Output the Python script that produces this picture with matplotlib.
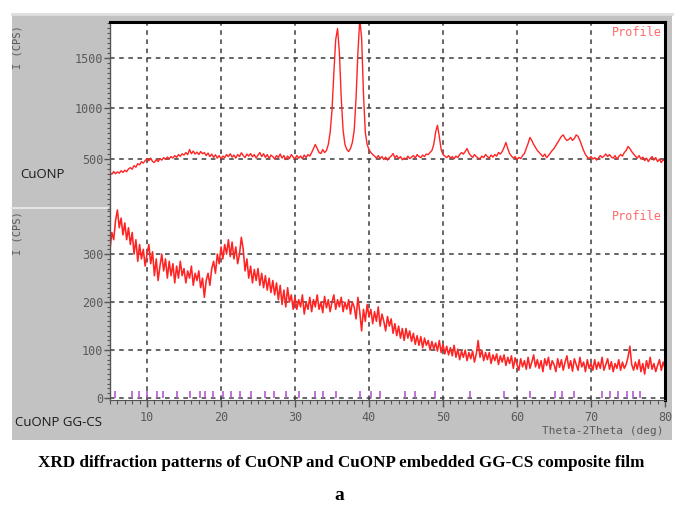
import matplotlib
matplotlib.use("Agg")
import matplotlib.pyplot as plt
import numpy as np
from matplotlib.lines import Line2D
from matplotlib.patches import Rectangle
from matplotlib.ticker import MultipleLocator

# 2-theta grid, 0.25 deg steps from 5 to 80
two_theta = np.arange(5.0, 80.001, 0.25)

# CuONP intensity (CPS)
cuonp = [
    360, 345, 372, 350, 368, 355, 380, 362, 385, 370, 398, 410,
    395, 430, 415, 450, 438, 470, 455, 480, 500, 478, 505, 470,
    462, 490, 470, 500, 485, 510, 492, 515, 498, 520, 505, 530,
    512, 540, 522, 548, 535, 560, 540, 590, 548, 575, 545, 565,
    540, 570, 548, 560, 530, 555, 520, 545, 512, 538, 505, 530,
    498, 525, 510, 540, 520, 548, 515, 535, 505, 540, 520, 558,
    530, 510, 545, 525, 550, 518, 540, 505, 535, 560, 520, 548,
    512, 540, 500, 535, 520, 495, 530, 510, 545, 505, 530, 490,
    525, 500, 540, 515, 498, 530, 505, 525, 500, 535, 510, 540,
    525, 560, 600, 640, 600, 560, 550, 590, 560, 580, 640, 760,
    980, 1350, 1680, 1790, 1550, 1100, 780, 640, 590, 570, 600, 660,
    780, 1100, 1550, 1880, 1700, 1150, 760, 640, 590, 560, 540, 525,
    505, 530, 500, 520, 490, 515, 485, 510, 525, 550, 510, 530,
    500, 520, 488, 505, 495, 525, 500, 515, 530, 505, 540, 520,
    510, 535, 520, 545, 540, 560, 580, 640, 760, 830, 720, 590,
    540, 525, 510, 530, 505, 520, 498, 525, 510, 540, 560, 545,
    570, 600, 555, 530, 510, 540, 520, 505, 498, 525, 510, 540,
    520, 505, 535, 515, 540, 525, 560, 545, 570, 610, 660, 600,
    550, 525, 505, 520, 490, 512, 500, 530, 550, 600, 650, 710,
    680, 640, 610, 580, 560, 540, 520, 545, 510, 530, 555, 580,
    600, 630, 660, 690, 720, 735, 700, 680, 690, 710, 680, 700,
    735, 720, 680, 630, 580, 540, 515, 500, 520, 495, 510, 485,
    505, 530, 510, 525, 545, 520, 540, 515, 505, 530, 495, 520,
    540, 525, 560, 580, 620, 600, 570, 545, 525, 505, 530, 495,
    515, 480, 505, 470, 500, 520, 485, 510, 470, 495, 460, 490,
    475,
]

# CuONP embedded GG-CS film intensity (CPS), lower trace
ggcs = [
    310, 345, 330, 370, 392, 355, 375, 340, 365, 330, 355, 320,
    345, 300, 330, 285, 320, 290, 310, 275, 300, 320, 280, 305,
    255, 290, 245, 275, 300, 265, 290, 250, 285, 255, 280, 240,
    275, 250, 285, 255, 270, 240, 265, 250, 275, 235, 260, 245,
    265, 230, 250, 210, 245, 260, 235, 270, 285, 260, 300, 280,
    315, 290, 320, 300, 330, 295, 325, 290, 315, 280, 300, 335,
    310, 265, 290, 250, 275, 240, 268, 245, 270, 235, 260, 230,
    255, 225, 250, 220, 245, 215, 240, 205, 235, 195, 225, 190,
    230, 200, 215, 185, 210, 185, 205, 190, 215, 175, 200, 185,
    210, 180, 205, 190, 215, 185, 200, 178, 212, 188, 205, 180,
    200, 215, 185, 205, 190, 210, 180, 200, 185, 205, 175, 200,
    190, 165, 210, 180, 140, 185, 160, 195, 170, 185, 155, 180,
    160, 190, 150, 175, 160, 140, 170, 150, 165, 135, 155, 130,
    150, 125, 145, 120, 145, 125, 140, 118, 135, 112, 130, 110,
    128, 105, 125, 110, 120, 100, 118, 102, 115, 98, 120, 95,
    112, 92, 108, 90, 105, 88, 110, 85, 102, 80, 98, 85,
    100, 78, 95, 82, 98, 75, 92, 120, 85, 100, 78, 95,
    80, 95, 72, 90, 78, 92, 70, 88, 75, 90, 68, 85,
    72, 88, 62, 84, 70, 58, 82, 65, 78, 60, 85, 62,
    75, 90, 65, 80, 62, 78, 55, 82, 68, 85, 60, 78,
    70, 55, 82, 64, 80, 58, 75, 88, 62, 78, 56, 82,
    70, 58, 85, 65, 75, 55, 80, 62, 72, 58, 80, 60,
    75, 62, 85, 58, 70, 82, 60, 76, 55, 72, 62, 80,
    58, 75, 62, 70, 85, 108, 70, 58, 75, 60, 80, 55,
    72, 50, 78, 62, 85, 60, 72, 55, 68, 80, 58, 75,
    62,
]

# reference peak markers along the zero line of the lower panel (deg)
ref_peaks = [5.7, 8.0, 8.9, 10.0, 11.3, 12.2, 14.0, 15.8, 17.1, 17.8, 18.9,
             20.3, 21.4, 22.6, 24.1, 25.9, 27.2, 28.8, 30.5, 32.7, 33.8, 35.6,
             38.8, 40.3, 41.5, 44.8, 46.2, 48.9, 53.6, 58.3, 61.7, 65.2, 66.1,
             67.7, 71.5, 72.6, 73.7, 74.8, 75.7, 76.6]

x_ticks = [10, 20, 30, 40, 50, 60, 70, 80]
top_yticks = [500, 1000, 1500]
bottom_yticks = [0, 100, 200, 300]

W, H = 675, 507
RED = "#ff2424"
GRAY_TXT = "#5a5a5a"
MONO = "DejaVu Sans Mono"


def fx(px):
    return px / W


def fy(py):
    return 1 - py / H


fig = plt.figure(figsize=(W / 100, H / 100), dpi=100)
fig.patch.set_facecolor("white")

# grey instrument frame (kept behind the axes)
fig.patches.append(Rectangle((fx(12), fy(440)), fx(660), 426 / H,
                             transform=fig.transFigure, facecolor="#c2c2c2",
                             edgecolor="none", zorder=-2))
fig.lines.append(Line2D([fx(12), fx(672)], [fy(14), fy(14)], transform=fig.transFigure,
                        color="#dedede", lw=2, zorder=-1))
fig.lines.append(Line2D([fx(12), fx(108)], [fy(208), fy(208)], transform=fig.transFigure,
                        color="#e4e4e4", lw=1.5, zorder=-1))

left, right = 110, 665
ax_top = fig.add_axes([fx(left), fy(209), (right - left) / W, 187 / H])
ax_bot = fig.add_axes([fx(left), fy(400), (right - left) / W, 191 / H])

grid_kw = dict(color="#3c3c3c", linestyle=(0, (3, 3)), linewidth=1.1)

for ax in (ax_top, ax_bot):
    ax.set_zorder(2)
    ax.set_facecolor("white")
    ax.set_xlim(5, 80)
    ax.xaxis.set_major_locator(MultipleLocator(10))
    ax.xaxis.set_minor_locator(MultipleLocator(1))
    ax.grid(True, which="major", **grid_kw)
    ax.set_axisbelow(True)
    ax.spines["right"].set_linewidth(2.2)
    ax.spines["right"].set_color("black")
    ax.spines["left"].set_color("#555555")
    ax.spines["left"].set_linewidth(1.0)
    ax.tick_params(axis="y", which="major", direction="out", length=4, width=1,
                   color="#555555", labelcolor=GRAY_TXT, labelsize=8.5, pad=1)
    ax.tick_params(axis="y", which="minor", direction="out", length=2.5, width=0.8,
                   color="#555555")

# upper panel: CuONP
ax_top.plot(two_theta, cuonp, color=RED, lw=1.0)
ax_top.set_ylim(0, 1855)
ax_top.set_yticks(top_yticks)
ax_top.yaxis.set_minor_locator(MultipleLocator(50))
ax_top.spines["bottom"].set_visible(False)
ax_top.spines["top"].set_linewidth(2.2)
ax_top.spines["top"].set_color("black")
ax_top.tick_params(axis="x", which="both", bottom=False, labelbottom=False)
ax_top.set_yticklabels([str(v) for v in top_yticks], family=MONO)

# lower panel: CuONP GG-CS
ax_bot.plot(two_theta, ggcs, color=RED, lw=1.15)
ax_bot.vlines(ref_peaks, 0, 14, color="#b45ad2", lw=1.2)
ax_bot.set_ylim(-4, 394)
ax_bot.set_yticks(bottom_yticks)
ax_bot.yaxis.set_minor_locator(MultipleLocator(10))
ax_bot.spines["top"].set_visible(False)
ax_bot.spines["bottom"].set_color("#555555")
ax_bot.set_yticklabels([str(v) for v in bottom_yticks], family=MONO)
ax_bot.set_xticks(x_ticks)
ax_bot.set_xticklabels([str(v) for v in x_ticks], family=MONO)
ax_bot.tick_params(axis="x", which="major", direction="out", length=5, width=1,
                   color="#555555", labelcolor=GRAY_TXT, labelsize=8.5, pad=3)
ax_bot.tick_params(axis="x", which="minor", direction="out", length=3, width=0.8,
                   color="#555555")

# panel annotations
for y_top in (22, 208):
    fig.text(fx(18), fy(y_top + 3), "I (CPS)", rotation=90, ha="center", va="top",
             family=MONO, fontsize=7.5, color=GRAY_TXT)
fig.text(fx(662), fy(32), "Profile", ha="right", va="center", family=MONO,
         fontsize=8.5, color="#ff6a6a", zorder=3)
fig.text(fx(662), fy(217), "Profile", ha="right", va="center", family=MONO,
         fontsize=8.5, color="#ff6a6a", zorder=3)
fig.text(fx(20), fy(175), "CuONP", ha="left", va="center", family="Open Sans",
         fontsize=9.5, color="#1a1a1a")
fig.text(fx(15), fy(422), "CuONP GG-CS", ha="left", va="center", family="Open Sans",
         fontsize=9.5, color="#1a1a1a")
fig.text(fx(663), fy(431), "Theta-2Theta (deg)", ha="right", va="center", family=MONO,
         fontsize=8, color=GRAY_TXT)

# caption
fig.text(fx(341), fy(463), "XRD diffraction patterns of CuONP and CuONP embedded GG-CS composite film",
         ha="center", va="center", family="Liberation Serif", fontweight="bold", fontsize=12.3)
fig.text(fx(339), fy(496), "a", ha="center", va="center", family="Liberation Serif",
         fontweight="bold", fontsize=14)

fig.savefig("out.png", dpi=100, facecolor=fig.get_facecolor())
plt.close(fig)
